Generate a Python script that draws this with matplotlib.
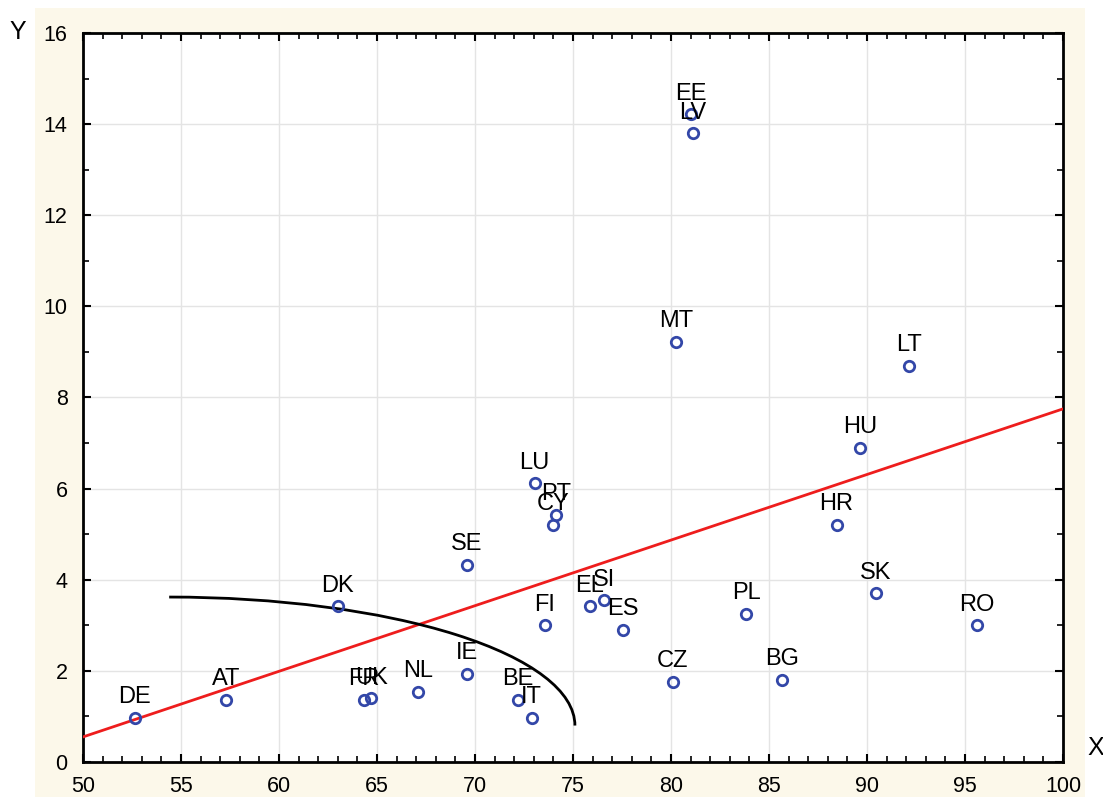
import numpy as np
import matplotlib
matplotlib.use("Agg")
import matplotlib.pyplot as plt
from matplotlib.patches import Arc, Rectangle
from matplotlib.ticker import MultipleLocator

plt.rcParams['font.family'] = ['Liberation Sans', 'DejaVu Sans']

# country codes and their (x, y) values
countries = ['DE', 'AT', 'DK', 'FR', 'UK', 'NL', 'IE', 'SE', 'BE', 'IT',
             'LU', 'PT', 'CY', 'FI', 'EL', 'SI', 'ES', 'CZ', 'MT', 'EE',
             'LV', 'PL', 'BG', 'HR', 'HU', 'SK', 'LT', 'RO']
x_vals = [52.65, 57.3, 63.0, 64.35, 64.7, 67.1, 69.6, 69.6, 72.2, 72.9,
          73.05, 74.15, 74.0, 73.55, 75.85, 76.6, 77.55, 80.1, 80.25, 81.0,
          81.1, 83.85, 85.65, 88.45, 89.65, 90.45, 92.15, 95.6]
y_vals = [0.97, 1.36, 3.42, 1.36, 1.40, 1.54, 1.93, 4.33, 1.36, 0.97,
          6.12, 5.42, 5.2, 3.0, 3.42, 3.55, 2.9, 1.76, 9.22, 14.22,
          13.8, 3.25, 1.8, 5.2, 6.9, 3.7, 8.7, 3.0]

# red trend line end values (x = 50 and x = 100)
trend_x = [50, 100]
trend_y = [0.55, 7.75]

# black boundary: quarter ellipse
arc_center = (54.4, 0.8)
arc_width = 41.4
arc_height = 5.64

fig = plt.figure(figsize=(11.03, 8.01), dpi=100)
fig.patch.set_facecolor('white')
fig.patches.append(Rectangle((0.0317, 0.005), 0.952, 0.985, transform=fig.transFigure,
                             facecolor='#fcf8ea', edgecolor='none', zorder=-10))

ax = fig.add_axes([0.0752, 0.0487, 0.8885, 0.9101])
ax.set_facecolor('white')

ax.plot(trend_x, trend_y, color='#ee1d1d', lw=2, zorder=3)
ax.add_patch(Arc(arc_center, arc_width, arc_height, theta1=0, theta2=90,
                 color='black', lw=2, zorder=3))

ax.plot(x_vals, y_vals, 'o', ms=7.5, mfc='none', mec='#3347a8', mew=2, zorder=4)
for name, xv, yv in zip(countries, x_vals, y_vals):
    ax.annotate(name, (xv, yv), xytext=(0, 10.5), textcoords='offset points',
                ha='center', va='baseline', fontsize=17, color='black', zorder=5)

ax.set_xlim(50, 100)
ax.set_ylim(0, 16)
ax.xaxis.set_major_locator(MultipleLocator(5))
ax.xaxis.set_minor_locator(MultipleLocator(1))
ax.yaxis.set_major_locator(MultipleLocator(2))
ax.yaxis.set_minor_locator(MultipleLocator(1))
ax.grid(True, which='major', color='#e4e4e4', lw=1)
ax.set_axisbelow(True)
ax.tick_params(which='both', direction='in', top=True, right=True, labelsize=15.5, color='black')
ax.tick_params(which='major', length=6, width=1.5)
ax.tick_params(which='minor', length=4, width=1.2)
ax.tick_params(axis='x', which='major', pad=10)
ax.tick_params(axis='y', which='major', pad=11)
for s in ax.spines.values():
    s.set_linewidth(2)
    s.set_color('black')

fig.text(0.016, 0.96, 'Y', fontsize=18, ha='center', va='center')
fig.text(0.993, 0.066, 'X', fontsize=18, ha='center', va='center')

fig.savefig('out.png', dpi=100, facecolor=fig.get_facecolor())
